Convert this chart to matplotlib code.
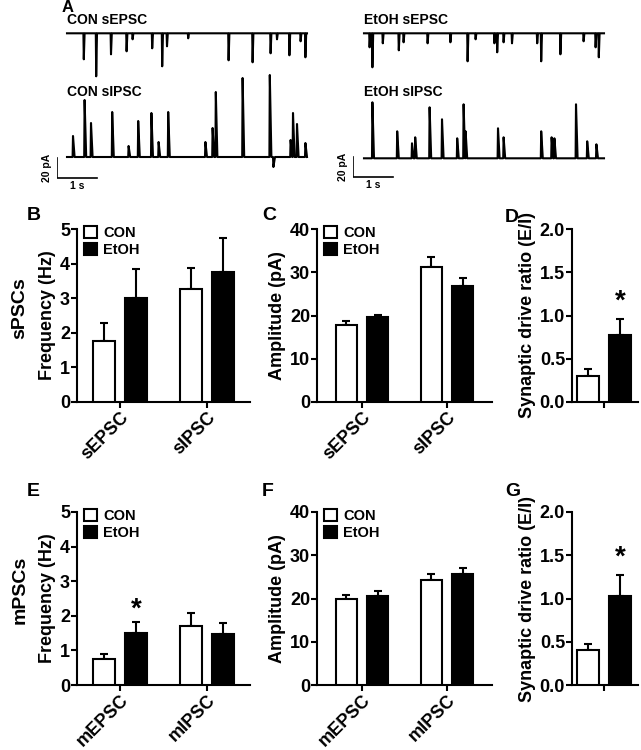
import matplotlib
matplotlib.use("Agg")
import matplotlib.pyplot as plt
from matplotlib.patches import Patch

plt.rcParams['font.family'] = ['Liberation Sans', 'DejaVu Sans']
plt.rcParams['font.weight'] = 'bold'
plt.rcParams['axes.labelweight'] = 'bold'

W, H = 641, 750

# ---- panel A: event times (s) and amplitudes (pA) ----
con_epsc_t = [0.41, 0.72, 1.09, 1.48, 1.63, 2.12, 2.37, 2.49, 3.02, 4.03, 4.63, 5.08, 5.24, 5.55, 5.83, 5.95]
con_epsc_a = [26, 43, 21, 18, 6, 15, 33, 13, 5, 27, 29, 20, 6, 22, 8, 24]
con_ipsc_t = [0.14, 0.43, 0.59, 1.12, 1.53, 1.77, 2.10, 2.28, 2.52, 3.45, 3.63, 3.71, 4.38, 5.06, 5.15, 5.58, 5.64, 5.74, 5.95]
con_ipsc_a = [21, 57, 34, 45, 11, 36, 44, 15, 45, 15, 29, 65, 79, 82, -10, 17, 44, 33, 14]
etoh_epsc_t = [0.13, 0.20, 0.46, 0.86, 0.98, 1.58, 2.15, 2.58, 2.78, 3.25, 3.32, 3.48, 3.69, 4.32, 4.42, 4.90, 5.48, 5.78, 5.86]
etoh_epsc_a = [14, 34, 10, 17, 9, 10, 9, 28, 6, 10, 19, 9, 10, 10, 28, 21, 8, 14, 24]
etoh_ipsc_t = [0.20, 0.82, 1.19, 1.27, 1.63, 1.94, 2.32, 2.48, 2.53, 3.34, 3.48, 4.42, 4.68, 4.75, 5.29, 5.57, 5.80]
etoh_ipsc_a = [56, 27, 15, 21, 51, 39, 20, 54, 27, 30, 21, 27, 21, 20, 54, 17, 14]

# ---- bar data ----
groups_s = ["sEPSC", "sIPSC"]
groups_m = ["mEPSC", "mIPSC"]
freq_s_con, freq_s_con_err = [1.77, 3.26], [0.51, 0.60]
freq_s_etoh, freq_s_etoh_err = [3.00, 3.77], [0.84, 0.96]
amp_s_con, amp_s_con_err = [17.8, 31.1], [0.9, 2.5]
amp_s_etoh, amp_s_etoh_err = [19.7, 26.9], [0.5, 1.8]
ratio_s = [0.30, 0.775]
ratio_s_err = [0.08, 0.18]
freq_m_con, freq_m_con_err = [0.75, 1.71], [0.15, 0.38]
freq_m_etoh, freq_m_etoh_err = [1.51, 1.47], [0.30, 0.33]
amp_m_con, amp_m_con_err = [20.0, 24.3], [0.8, 1.3]
amp_m_etoh, amp_m_etoh_err = [20.6, 25.6], [1.1, 1.4]
ratio_m = [0.40, 1.03]
ratio_m_err = [0.07, 0.24]

fig = plt.figure(figsize=(W / 100, H / 100), dpi=100)


def add_ax(left, top, right, bottom):
    return fig.add_axes([left / W, 1 - bottom / H, (right - left) / W, (bottom - top) / H])


def trace_xy(times, amps, base, sign, decay):
    xs = [0.0]
    ys = [base]
    for t, a in sorted(zip(times, amps)):
        xs += [t, t + 0.01, t + decay]
        ys += [base, base + sign * a, base]
    xs.append(6.0)
    ys.append(base)
    return xs, ys


def draw_traces(left_px, t0, epsc, ipsc, e_base, i_base, lab, bar_y):
    ax = add_ax(left_px, 10, left_px + 262, 190)
    ax.set_xlim(-t0, 6.55 - t0)
    ax.set_ylim(0, 180)
    ax.axis('off')
    x, y = trace_xy(epsc[0], epsc[1], e_base, -1, 0.03)
    ax.plot(x, y, color='black', lw=1.5)
    x, y = trace_xy(ipsc[0], ipsc[1], i_base, 1, 0.05)
    ax.plot(x, y, color='black', lw=1.5)
    ax.text(0, 170, lab + " sEPSC", fontsize=10, fontweight='bold', va='center')
    ax.text(0, 98, lab + " sIPSC", fontsize=10, fontweight='bold', va='center')
    # scale bars: 20 pA, 1 s
    ax.plot([-t0, -t0, -t0 + 1], [bar_y + 20, bar_y, bar_y], color='black', lw=1.2)
    ax.text(-t0 - 0.12, bar_y + 10, "20 pA", rotation=90, fontsize=7.5, fontweight='bold',
            ha='right', va='center')
    ax.text(-t0 + 0.5, bar_y - 3, "1 s", fontsize=7.5, fontweight='bold', ha='center', va='top')


draw_traces(57, 0.25, (con_epsc_t, con_epsc_a), (con_ipsc_t, con_ipsc_a), 156.7, 33, "CON", 12)
draw_traces(353, 0.275, (etoh_epsc_t, etoh_epsc_a), (etoh_ipsc_t, etoh_ipsc_a), 156.7, 31.7, "EtOH", 13)
fig.text(62 / W, 1 - 8 / H, "A", fontsize=12, fontweight='bold', va='center')


def style(ax, ymax, step, fmt):
    for s in ['top', 'right']:
        ax.spines[s].set_visible(False)
    for s in ['left', 'bottom']:
        ax.spines[s].set_linewidth(1.5)
    ticks = [i * step for i in range(int(round(ymax / step)) + 1)]
    ax.set_ylim(0, ymax)
    ax.set_yticks(ticks)
    ax.set_yticklabels([fmt.format(t) for t in ticks])
    ax.tick_params(direction='out', length=4, width=1.5, labelsize=13, pad=1)


def grouped(ax, groups, con, con_err, etoh, etoh_err, ymax, step, ylabel, legend=True):
    xs = list(range(len(groups)))
    off, w = 0.185, 0.25
    xc = [x - off for x in xs]
    xe = [x + off for x in xs]
    ax.bar(xc, con, w, color='white', edgecolor='black', lw=1.5, zorder=3)
    ax.bar(xe, etoh, w, color='black', edgecolor='black', lw=1.5, zorder=3)
    ax.errorbar(xc, con, yerr=[[0] * len(con), con_err], fmt='none', ecolor='black',
                elinewidth=1.5, capsize=3, capthick=1.5, zorder=2)
    ax.errorbar(xe, etoh, yerr=[[0] * len(etoh), etoh_err], fmt='none', ecolor='black',
                elinewidth=1.5, capsize=3, capthick=1.5, zorder=2)
    style(ax, ymax, step, "{:g}")
    ax.set_xticks(xs)
    ax.set_xticklabels(groups, rotation=45, ha='right', va='top', rotation_mode='anchor')
    ax.set_ylabel(ylabel, fontsize=13, fontweight='bold', labelpad=3)
    if legend:
        handles = [Patch(facecolor='white', edgecolor='black', lw=1.5, label='CON'),
                   Patch(facecolor='black', edgecolor='black', lw=1.5, label='EtOH')]
        ax.legend(handles=handles, loc='upper left', bbox_to_anchor=(0.04, 1.02), frameon=False,
                  handlelength=0.9, handleheight=0.9, handletextpad=0.4,
                  labelspacing=0.25, borderaxespad=0, borderpad=0,
                  prop={'weight': 'bold', 'size': 10.5})
    return xc, xe


def ratio(ax, vals, errs, ymax=2.0):
    xs = [-0.185, 0.185]
    ax.bar(xs, vals, 0.25, color=['white', 'black'], edgecolor='black', lw=1.5, zorder=3)
    ax.errorbar(xs, vals, yerr=[[0, 0], errs], fmt='none', ecolor='black',
                elinewidth=1.5, capsize=3, capthick=1.5, zorder=2)
    ax.set_xlim(-0.37, 0.39)
    style(ax, ymax, 0.5, "{:.1f}")
    ax.set_xticks([0])
    ax.set_xticklabels([""])
    ax.set_ylabel("Synaptic drive ratio (E/I)", fontsize=13, fontweight='bold', labelpad=3)
    ax.text(xs[1], vals[1] + errs[1] + 0.05, "*", fontsize=20, fontweight='bold',
            ha='center', va='bottom')


# row 1
axB = add_ax(77, 229, 250, 402)
grouped(axB, groups_s, freq_s_con, freq_s_con_err, freq_s_etoh, freq_s_etoh_err, 5, 1, "Frequency (Hz)")
axB.set_xlim(-0.5, 1.5)
axC = add_ax(317, 229, 492, 402)
grouped(axC, groups_s, amp_s_con, amp_s_con_err, amp_s_etoh, amp_s_etoh_err, 40, 10, "Amplitude (pA)")
axC.set_xlim(-0.53, 1.53)
axD = add_ax(572, 229, 638, 402)
ratio(axD, ratio_s, ratio_s_err)

# row 2
axE = add_ax(77, 512, 250, 685)
xc, xe = grouped(axE, groups_m, freq_m_con, freq_m_con_err, freq_m_etoh, freq_m_etoh_err, 5, 1, "Frequency (Hz)")
axE.set_xlim(-0.5, 1.5)
axE.text(xe[0], freq_m_etoh[0] + freq_m_etoh_err[0] + 0.0, "*", fontsize=20, fontweight='bold',
         ha='center', va='bottom')
axF = add_ax(317, 512, 492, 685)
grouped(axF, groups_m, amp_m_con, amp_m_con_err, amp_m_etoh, amp_m_etoh_err, 40, 10, "Amplitude (pA)")
axF.set_xlim(-0.53, 1.53)
axG = add_ax(572, 512, 638, 685)
ratio(axG, ratio_m, ratio_m_err)

for lab, x, y in [("B", 27, 215), ("C", 262, 215), ("D", 505, 217),
                  ("E", 27, 492), ("F", 262, 492), ("G", 505, 492)]:
    fig.text(x / W, 1 - y / H, lab, fontsize=14, fontweight='bold', va='center')

fig.text(20 / W, 1 - 308 / H, "sPSCs", rotation=90, fontsize=14, fontweight='bold',
         ha='center', va='center')
fig.text(20 / W, 1 - 590 / H, "mPSCs", rotation=90, fontsize=14, fontweight='bold',
         ha='center', va='center')

fig.savefig("out.png", dpi=100)
